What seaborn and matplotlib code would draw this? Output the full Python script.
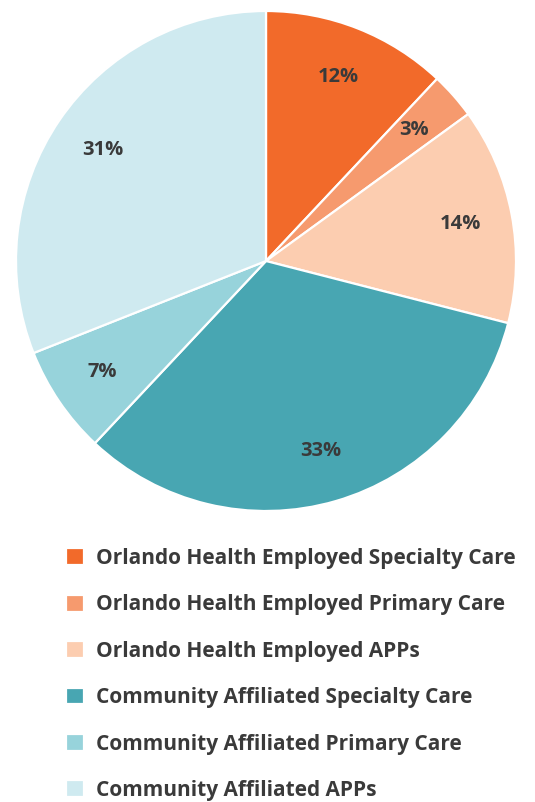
import matplotlib
matplotlib.use("Agg")
import matplotlib.pyplot as plt
import seaborn as sns

categories = [
    "Orlando Health Employed Specialty Care",
    "Orlando Health Employed Primary Care",
    "Orlando Health Employed APPs",
    "Community Affiliated Specialty Care",
    "Community Affiliated Primary Care",
    "Community Affiliated APPs",
]
values = [12, 3, 14, 33, 7, 31]
colors = ["#F26A2A", "#F69A6E", "#FCCDB0", "#48A6B2", "#97D3DB", "#CFEAF0"]

sns.set_theme(style="white")
plt.rcParams["font.family"] = ["Open Sans", "DejaVu Sans"]

fig = plt.figure(figsize=(5.35, 8.02), dpi=100)
ax = fig.add_axes([16 / 535, 1 - 511 / 802, 500 / 535, 500 / 802])

wedges, texts, autotexts = ax.pie(
    values,
    colors=sns.color_palette(colors),
    startangle=90,
    counterclock=False,
    autopct="%d%%",
    pctdistance=0.79,
    radius=1,
    wedgeprops=dict(edgecolor="white", linewidth=1.6),
    textprops=dict(color="#3a3a3a", fontsize=14.5, fontweight="bold"),
)
ax.set_xlim(-1, 1)
ax.set_ylim(-1, 1)
ax.set_aspect("equal")
ax.axis("off")

fig.legend(
    wedges,
    categories,
    loc="upper left",
    bbox_to_anchor=(66 / 535, 1 - 548 / 802),
    frameon=False,
    prop=dict(family=["Open Sans", "DejaVu Sans"], weight="bold", size=15),
    labelcolor="#3a3a3a",
    handlelength=0.87,
    handleheight=0.87,
    handletextpad=0.55,
    labelspacing=1.22,
    borderpad=0,
    borderaxespad=0,
)

fig.savefig("out.png", dpi=100, facecolor="white")
